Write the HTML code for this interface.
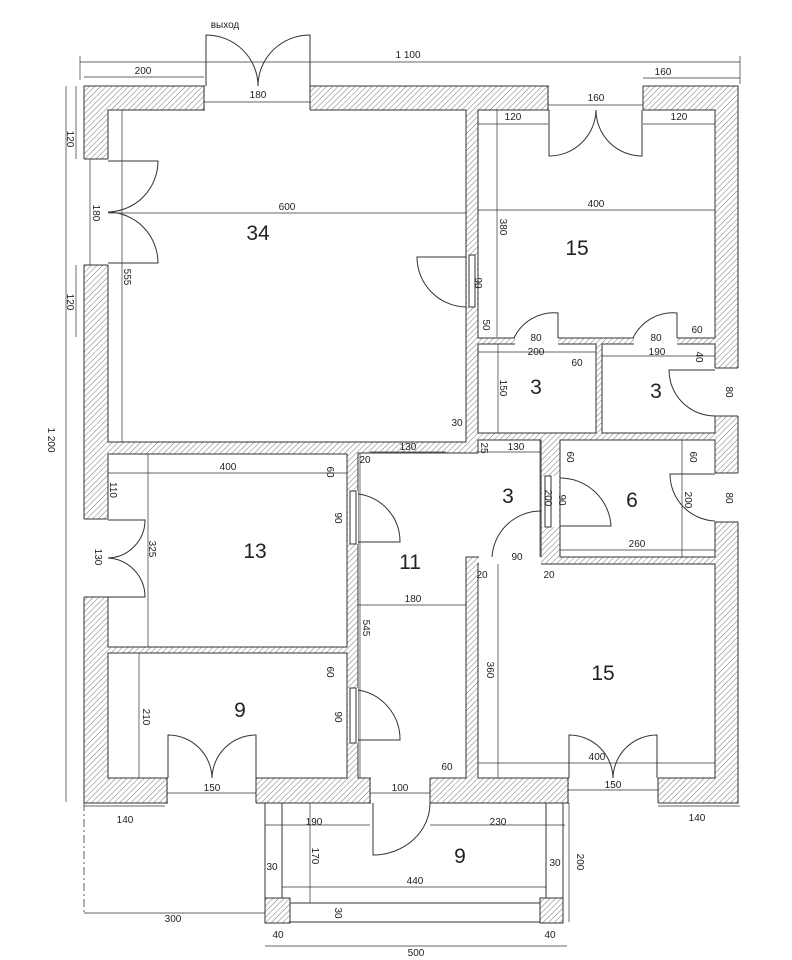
<!DOCTYPE html>
<html><head><meta charset="utf-8"><style>
html,body{margin:0;padding:0;background:#fff}
svg{display:block}
text{font-family:"Liberation Sans","DejaVu Sans",sans-serif;fill:#222}
.d{font-size:10px;text-anchor:middle}
.n{font-size:21px;text-anchor:middle}
</style></head><body>
<svg width="792" height="960" viewBox="0 0 792 960" xmlns="http://www.w3.org/2000/svg">
<defs>
<pattern id="h" width="4" height="4" patternUnits="userSpaceOnUse" patternTransform="rotate(45)">
<rect width="4" height="4" fill="#fff"/><line x1="0" y1="0" x2="0" y2="4" stroke="#777" stroke-width="1"/>
</pattern>
</defs>
<rect x="84" y="86" width="654" height="717" fill="url(#h)" stroke="#333" stroke-width="1"/>
<g fill="#fff" stroke="#333" stroke-width="1">
<rect x="108" y="110" width="358" height="332"/>
<rect x="478" y="110" width="237" height="228"/>
<rect x="478" y="344" width="118" height="89"/>
<rect x="602" y="344" width="113" height="89"/>
<polygon points="358,453 478,453 478,440 541,440 541,557 466,557 466,778 358,778"/>
<rect x="560" y="440" width="155" height="117"/>
<rect x="478" y="564" width="237" height="214"/>
<rect x="108" y="454" width="239" height="193"/>
<rect x="108" y="653" width="239" height="125"/>
</g>
<g fill="#fff" stroke="none">
<rect x="205" y="85" width="105" height="26"/>
<rect x="549" y="85" width="94" height="26"/>
<rect x="83" y="159" width="26" height="106"/>
<rect x="83" y="519" width="26" height="78"/>
<rect x="714" y="368" width="25" height="48"/>
<rect x="714" y="473" width="25" height="49"/>
<rect x="168" y="777" width="88" height="27"/>
<rect x="371" y="777" width="59" height="27"/>
<rect x="569" y="777" width="89" height="27"/>
<rect x="467" y="255" width="10" height="52"/>
<rect x="515" y="337" width="43" height="8"/>
<rect x="634" y="337" width="43" height="8"/>
<rect x="348" y="491" width="10" height="53"/>
<rect x="348" y="688" width="10" height="55"/>
<rect x="542" y="476" width="17" height="51"/>
<rect x="479" y="556" width="62" height="9"/>
</g>
<g fill="none" stroke="#333" stroke-width="1">
<line x1="204" y1="86" x2="204" y2="110"/><line x1="310" y1="86" x2="310" y2="110"/>
<line x1="548" y1="86" x2="548" y2="110"/><line x1="643" y1="86" x2="643" y2="110"/>
<line x1="84" y1="159" x2="108" y2="159"/><line x1="84" y1="265" x2="108" y2="265"/>
<line x1="84" y1="519" x2="108" y2="519"/><line x1="84" y1="597" x2="108" y2="597"/>
<line x1="715" y1="368" x2="738" y2="368"/><line x1="715" y1="416" x2="738" y2="416"/>
<line x1="715" y1="473" x2="738" y2="473"/><line x1="715" y1="522" x2="738" y2="522"/>
<line x1="167" y1="778" x2="167" y2="803"/><line x1="256" y1="778" x2="256" y2="803"/>
<line x1="370" y1="778" x2="370" y2="803"/><line x1="430" y1="778" x2="430" y2="803"/>
<line x1="568" y1="778" x2="568" y2="803"/><line x1="658" y1="778" x2="658" y2="803"/>
<rect x="469" y="255" width="6" height="52"/>
<rect x="350" y="491" width="6" height="53"/>
<rect x="350" y="688" width="6" height="55"/>
<rect x="545" y="476" width="6" height="51"/>
<path d="M206,86 L206,35 A52,51 0 0 1 258,86 M310,86 L310,35 A52,51 0 0 0 258,86"/>
<path d="M549,110 L549,156 A47,47 0 0 0 596,110 M642,110 L642,156 A46,46 0 0 1 596,110"/>
<path d="M108,161 L158,161 A51,51 0 0 1 108,212 M108,263 L158,263 A51,51 0 0 0 108,212"/>
<path d="M108,520 L145,520 A38,38 0 0 1 108,558 M108,597 L145,597 A39,39 0 0 0 108,558"/>
<path d="M466,257 L417,257 A50,50 0 0 0 466,307"/>
<path d="M558,338 L558,313 A44,44 0 0 0 514,338 M677,338 L677,313 A44,44 0 0 0 633,338"/>
<path d="M715,370 L669,370 A46,46 0 0 0 715,416"/>
<path d="M358,494 A48,48 0 0 1 400,542 L358,542"/>
<path d="M358,690 A50,50 0 0 1 400,740 L358,740"/>
<path d="M560,478 A51,51 0 0 1 611,526 L560,526"/>
<path d="M715,474 L670,474 A47,47 0 0 0 715,521"/>
<path d="M541,557 L541,511 A49,49 0 0 0 492,557"/>
<path d="M168,778 L168,735 A44,44 0 0 1 212,778 M256,778 L256,735 A44,44 0 0 0 212,778"/>
<path d="M569,778 L569,735 A44,44 0 0 1 613,778 M657,778 L657,735 A44,44 0 0 0 613,778"/>
<path d="M373,803 L373,855 A57,52 0 0 0 430,803"/>
<line x1="265" y1="803" x2="265" y2="923"/><line x1="282" y1="803" x2="282" y2="898"/>
<line x1="546" y1="803" x2="546" y2="898"/><line x1="563" y1="803" x2="563" y2="923"/>
<line x1="290" y1="903" x2="540" y2="903"/><line x1="265" y1="922" x2="563" y2="922"/>
<line x1="84" y1="803" x2="84" y2="913" stroke-dasharray="8,3,2,3" stroke-width="0.8"/>
</g>
<rect x="265" y="898" width="25" height="25" fill="url(#h)" stroke="#333"/>
<rect x="540" y="898" width="23" height="25" fill="url(#h)" stroke="#333"/>
<g stroke="#333" stroke-width="0.7" fill="none">
<line x1="80" y1="62" x2="740" y2="62"/><line x1="84" y1="77" x2="204" y2="77"/>
<line x1="204" y1="102" x2="310" y2="102"/><line x1="643" y1="78" x2="740" y2="78"/>
<line x1="548" y1="105" x2="643" y2="105"/><line x1="478" y1="124" x2="548" y2="124"/>
<line x1="643" y1="124" x2="715" y2="124"/><line x1="108" y1="213" x2="466" y2="213"/>
<line x1="478" y1="210" x2="715" y2="210"/><line x1="122" y1="110" x2="122" y2="442"/>
<line x1="497" y1="110" x2="497" y2="337"/><line x1="498" y1="344" x2="498" y2="433"/>
<line x1="478" y1="352" x2="596" y2="352" /><line x1="602" y1="356" x2="715" y2="356"/>
<line x1="370" y1="452" x2="446" y2="452"/><line x1="478" y1="452" x2="541" y2="452"/>
<line x1="108" y1="473" x2="347" y2="473"/><line x1="148" y1="454" x2="148" y2="647"/>
<line x1="560" y1="550" x2="715" y2="550"/><line x1="682" y1="440" x2="682" y2="557"/>
<line x1="540" y1="440" x2="540" y2="557"/><line x1="358" y1="605" x2="466" y2="605"/>
<line x1="360" y1="453" x2="360" y2="778"/><line x1="498" y1="564" x2="498" y2="778"/>
<line x1="139" y1="653" x2="139" y2="778"/><line x1="478" y1="763" x2="715" y2="763"/>
<line x1="167" y1="793" x2="256" y2="793"/><line x1="370" y1="793" x2="430" y2="793"/>
<line x1="568" y1="790" x2="658" y2="790"/><line x1="84" y1="806" x2="165" y2="806"/>
<line x1="658" y1="806" x2="740" y2="806"/><line x1="265" y1="825" x2="370" y2="825"/>
<line x1="430" y1="825" x2="565" y2="825"/><line x1="310" y1="803" x2="310" y2="903"/>
<line x1="569" y1="803" x2="569" y2="922"/><line x1="282" y1="887" x2="546" y2="887"/>
<line x1="84" y1="913" x2="265" y2="913"/><line x1="265" y1="946" x2="567" y2="946"/>
<line x1="66" y1="86" x2="66" y2="802"/><line x1="76" y1="86" x2="76" y2="159"/>
<line x1="90" y1="159" x2="90" y2="265"/><line x1="76" y1="265" x2="76" y2="337"/>
<line x1="80" y1="56" x2="80" y2="80"/><line x1="740" y1="56" x2="740" y2="84"/>
</g>
<g class="d">
<text x="225" y="28">выход</text>
<text x="408" y="58">1 100</text><text x="143" y="74">200</text><text x="258" y="98">180</text>
<text x="663" y="75">160</text><text x="596" y="101">160</text>
<text x="513" y="120">120</text><text x="679" y="120">120</text>
<text x="287" y="210">600</text><text x="596" y="207">400</text>
<text x="536" y="341">80</text><text x="656" y="341">80</text><text x="697" y="333">60</text>
<text x="536" y="355">200</text><text x="577" y="366">60</text><text x="657" y="355">190</text>
<text x="457" y="426">30</text><text x="408" y="450">130</text><text x="516" y="450">130</text>
<text x="365" y="463">20</text><text x="228" y="470">400</text><text x="637" y="547">260</text>
<text x="517" y="560">90</text><text x="482" y="578">20</text><text x="549" y="578">20</text>
<text x="413" y="602">180</text><text x="597" y="760">400</text><text x="447" y="770">60</text>
<text x="212" y="791">150</text><text x="400" y="791">100</text><text x="613" y="788">150</text>
<text x="125" y="823">140</text><text x="314" y="825">190</text><text x="498" y="825">230</text>
<text x="697" y="821">140</text><text x="272" y="870">30</text><text x="555" y="866">30</text>
<text x="415" y="884">440</text><text x="173" y="922">300</text><text x="278" y="938">40</text>
<text x="550" y="938">40</text><text x="416" y="956">500</text>
</g>
<g class="d">
<text transform="translate(48,440) rotate(90)">1 200</text>
<text transform="translate(67,139) rotate(90)">120</text>
<text transform="translate(93,213) rotate(90)">180</text>
<text transform="translate(67,302) rotate(90)">120</text>
<text transform="translate(124,277) rotate(90)">555</text>
<text transform="translate(500,227) rotate(90)">380</text>
<text transform="translate(475,283) rotate(90)">90</text>
<text transform="translate(483,325) rotate(90)">50</text>
<text transform="translate(500,388) rotate(90)">150</text>
<text transform="translate(696,357) rotate(90)">40</text>
<text transform="translate(726,392) rotate(90)">80</text>
<text transform="translate(481,448) rotate(90)">25</text>
<text transform="translate(327,472) rotate(90)">60</text>
<text transform="translate(567,457) rotate(90)">60</text>
<text transform="translate(690,457) rotate(90)">60</text>
<text transform="translate(110,490) rotate(90)">110</text>
<text transform="translate(335,518) rotate(90)">90</text>
<text transform="translate(149,549) rotate(90)">325</text>
<text transform="translate(545,498) rotate(90)">200</text>
<text transform="translate(559,500) rotate(90)">90</text>
<text transform="translate(685,500) rotate(90)">200</text>
<text transform="translate(726,498) rotate(90)">80</text>
<text transform="translate(95,557) rotate(90)">130</text>
<text transform="translate(363,628) rotate(90)">545</text>
<text transform="translate(487,670) rotate(90)">360</text>
<text transform="translate(327,672) rotate(90)">60</text>
<text transform="translate(143,717) rotate(90)">210</text>
<text transform="translate(335,717) rotate(90)">90</text>
<text transform="translate(312,856) rotate(90)">170</text>
<text transform="translate(577,862) rotate(90)">200</text>
<text transform="translate(335,913) rotate(90)">30</text>
</g>
<g class="n">
<text x="258" y="240">34</text><text x="577" y="255">15</text>
<text x="536" y="394">3</text><text x="656" y="398">3</text><text x="508" y="503">3</text>
<text x="632" y="507">6</text><text x="255" y="558">13</text><text x="410" y="569">11</text>
<text x="603" y="680">15</text><text x="240" y="717">9</text><text x="460" y="863">9</text>
</g>
</svg>
</body></html>
